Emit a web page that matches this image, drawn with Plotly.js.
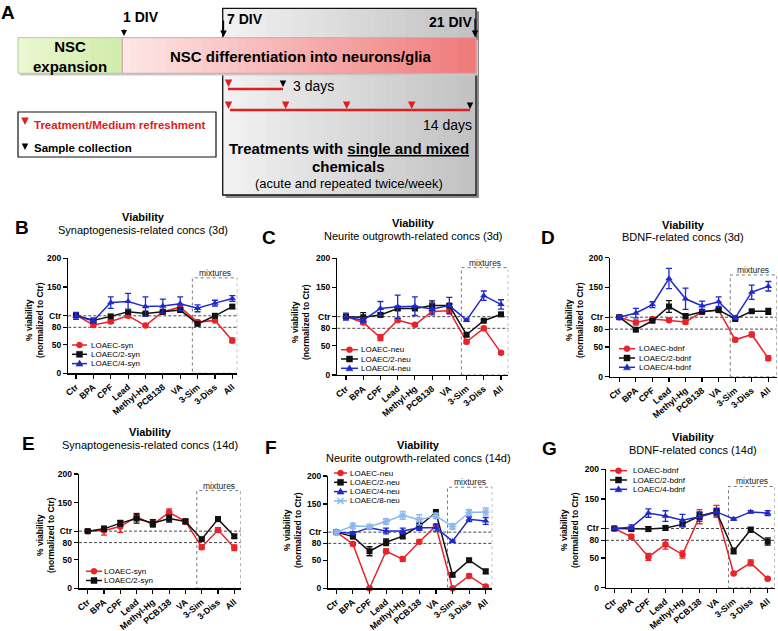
<!DOCTYPE html>
<html><head><meta charset="utf-8">
<script src="https://cdn.plot.ly/plotly-3.0.1.min.js"></script>
<style>html,body{margin:0;padding:0;background:#fff}#chart{width:778px;height:631px}</style>
</head><body><div id="chart"></div>
<script>
// ---------------- DATA ----------------
const categories = ['Ctr','BPA','CPF','Lead','Methyl-Hg','PCB138','VA','3-Sim','3-Diss','All'];
const yTickVals = [0, 50, 80, 100, 150, 200];
const yTickText = ['0', '50', '80', 'Ctr', '150', '200'];

// B: Synaptogenesis-related concs (3d)
const B_syn      = [101, 84, 90, 100, 83, 107, 115, 89, 92, 57];
const B_syn_err  = [3, 3, 3, 3, 2, 3, 3, 3, 3, 4];
const B_syn2     = [101, 92, 99, 107, 104, 107, 110, 86, 100, 116];
const B_syn2_err = [2, 2, 2, 3, 2, 2, 3, 2, 2, 3];
const B_syn4     = [100, 91, 123, 125, 116, 117, 121, 113, 122, 130];
const B_syn4_err = [6, 4, 10, 14, 17, 12, 12, 6, 5, 5];

// C: Neurite outgrowth-related concs (3d)
const C_neu      = [100, 90, 64, 94, 86, 109, 110, 57, 80, 38];
const C_neu_err  = [3, 3, 5, 3, 2, 3, 3, 3, 3, 2];
const C_neu2     = [100, 99, 103, 114, 114, 119, 119, 69, 93, 104];
const C_neu2_err = [3, 8, 3, 3, 3, 8, 3, 3, 2, 2];
const C_neu4     = [100, 94, 114, 117, 118, 113, 119, 94, 136, 121];
const C_neu4_err = [6, 4, 12, 20, 16, 10, 14, 2, 8, 8];

// D: BDNF-related concs (3d)
const D_bdnf      = [100, 91, 97, 95, 92, 109, 112, 62, 71, 31];
const D_bdnf_err  = [2, 4, 2, 2, 3, 3, 3, 3, 4, 4];
const D_bdnf2     = [100, 79, 94, 118, 102, 109, 112, 97, 110, 110];
const D_bdnf2_err = [2, 2, 2, 10, 3, 2, 2, 2, 2, 5];
const D_bdnf4     = [100, 107, 121, 165, 131, 119, 126, 99, 142, 152];
const D_bdnf4_err = [3, 8, 5, 17, 18, 8, 8, 3, 12, 8];

// E: Synaptogenesis-related concs (14d)
const E_syn      = [100, 101, 108, 125, 112, 133, 117, 72, 102, 71];
const E_syn_err  = [2, 8, 10, 6, 5, 6, 4, 4, 4, 5];
const E_syn2     = [100, 104, 114, 122, 114, 122, 117, 86, 121, 91];
const E_syn2_err = [2, 4, 5, 8, 6, 6, 4, 2, 4, 3];

// F: Neurite outgrowth-related concs (14d)
const F_neu      = [100, 79, 0, 66, 52, 83, 111, 0, 22, 3];
const F_neu_err  = [2, 3, 1, 4, 4, 3, 3, 1, 3, 2];
const F_neu2     = [100, 92, 66, 82, 93, 111, 135, 24, 50, 30];
const F_neu2_err = [2, 3, 8, 6, 5, 7, 5, 3, 3, 4];
const F_neu4     = [100, 98, 108, 102, 102, 108, 108, 84, 123, 120];
const F_neu4_err = [2, 3, 2, 5, 5, 5, 6, 2, 4, 6];
const F_neu8     = [100, 111, 110, 119, 130, 122, 129, 110, 135, 136];
const F_neu8_err = [3, 5, 2, 5, 7, 9, 5, 5, 5, 7];

// G: BDNF-related concs (14d)
const G_bdnf      = [100, 86, 52, 73, 56, 120, 129, 24, 42, 15];
const G_bdnf_err  = [2, 4, 6, 8, 6, 12, 10, 2, 5, 2];
const G_bdnf2     = [100, 99, 99, 101, 107, 121, 128, 62, 98, 78];
const G_bdnf2_err = [2, 2, 4, 4, 4, 6, 6, 5, 4, 6];
const G_bdnf4     = [100, 102, 126, 121, 114, 120, 128, 116, 128, 126];
const G_bdnf4_err = [2, 4, 7, 9, 10, 8, 6, 2, 2, 4];

// ---------------- STYLE / LAYOUT ----------------
const W = 778, H = 631;
const fx = p => p / W, fy = p => 1 - p / H;
const FONT = 'Arial, "Liberation Sans", sans-serif';
const RED = '#e8232a', BLACK = '#111111', BLUE = '#1e2acb', LIGHT = '#8db8ee';
const ST = {
  red:   {color: RED, symbol: 'circle'},
  black: {color: BLACK, symbol: 'square'},
  blue:  {color: BLUE, symbol: 'triangle-up'},
  light: {color: LIGHT, symbol: 'asterisk-open'}
};

const panels = [
  {letter:'B', L:68.3, R:237.3, x0:76, x9:232.3, top:258.3, bottom:373.3, boxTop:166,
   sub:'Synaptogenesis-related concs (3d)', tx:143, ty:217, lx:22, ly:228, ytx:34, yty:320,
   leg:{sx0:72, sx1:87, tx:90, rows:[345, 354.3, 363.6]},
   series:[['LOAEC-syn', B_syn, B_syn_err, 'red'], ['LOAEC/2-syn', B_syn2, B_syn2_err, 'black'], ['LOAEC/4-syn', B_syn4, B_syn4_err, 'blue']]},
  {letter:'C', L:337.3, R:508.3, x0:346, x9:501, top:258.3, bottom:375, boxTop:184,
   sub:'Neurite outgrowth-related concs (3d)', tx:413, ty:223, lx:269, ly:237, ytx:300, yty:322,
   leg:{sx0:341, sx1:358, tx:360, rows:[349.7, 359, 368.3]},
   series:[['LOAEC-neu', C_neu, C_neu_err, 'red'], ['LOAEC/2-neu', C_neu2, C_neu2_err, 'black'], ['LOAEC/4-neu', C_neu4, C_neu4_err, 'blue']]},
  {letter:'D', L:610, R:776.7, x0:619.3, x9:768.3, top:257.7, bottom:376.7, boxTop:171,
   sub:'BDNF-related concs (3d)', tx:683, ty:225, lx:548, ly:238, ytx:574, yty:320,
   leg:{sx0:619, sx1:635, tx:638, rows:[348.7, 358, 367.3]},
   series:[['LOAEC-bdnf', D_bdnf, D_bdnf_err, 'red'], ['LOAEC/2-bdnf', D_bdnf2, D_bdnf2_err, 'black'], ['LOAEC/4-bdnf', D_bdnf4, D_bdnf4_err, 'blue']]},
  {letter:'E', L:79, R:240.7, x0:87.7, x9:234.3, top:474, bottom:588.3, boxTop:171,
   sub:'Synaptogenesis-related concs (14d)', tx:150, ty:432, lx:28, ly:443, ytx:45, yty:535,
   leg:{sx0:86, sx1:102, tx:103, rows:[571.2, 580.5]},
   series:[['LOAEC-syn', E_syn, E_syn_err, 'red'], ['LOAEC/2-syn', E_syn2, E_syn2_err, 'black']]},
  {letter:'F', L:328.3, R:492.3, x0:336.3, x9:485.7, top:476, bottom:588.3, boxTop:180,
   sub:'Neurite outgrowth-related concs (14d)', tx:418, ty:445, lx:271, ly:447, ytx:292, yty:530,
   leg:{sx0:334, sx1:347, tx:349, rows:[473, 482.3, 491.6, 500.9]},
   series:[['LOAEC-neu', F_neu, F_neu_err, 'red'], ['LOAEC/2-neu', F_neu2, F_neu2_err, 'black'], ['LOAEC/4-neu', F_neu4, F_neu4_err, 'blue'], ['LOAEC/8-neu', F_neu8, F_neu8_err, 'light']]},
  {letter:'G', L:606, R:775, x0:614.3, x9:767.7, top:469.3, bottom:587.7, boxTop:171,
   sub:'BDNF-related concs (14d)', tx:693, ty:437, lx:549, ly:448, ytx:569, yty:530,
   leg:{sx0:610, sx1:627, tx:632, rows:[470.7, 480, 489.3]},
   series:[['LOAEC-bdnf', G_bdnf, G_bdnf_err, 'red'], ['LOAEC/2-bdnf', G_bdnf2, G_bdnf2_err, 'black'], ['LOAEC/4-bdnf', G_bdnf4, G_bdnf4_err, 'blue']]}
];

const traces = [], shapes = [], annotations = [];
const layout = {
  width: W, height: H, margin: {l:0, r:0, t:0, b:0},
  paper_bgcolor: '#fff', plot_bgcolor: 'rgba(0,0,0,0)',
  showlegend: false, font: {family: FONT, color: '#000'},
  shapes, annotations
};

function txt(x, y, text, size, opts) {
  annotations.push(Object.assign({xref:'paper', yref:'paper', x: fx(x), y: fy(y), text,
    showarrow:false, xanchor:'center', yanchor:'middle', borderpad:0,
    font:{family: FONT, size, color:'#000'}}, opts || {}));
}
function arrow(x, y, len, color, w) {
  annotations.push({xref:'paper', yref:'paper', x: fx(x), y: fy(y), ax: 0, ay: -len, text:'',
    showarrow:true, arrowhead:2, arrowsize:1, arrowwidth: w || 1.2, arrowcolor: color, standoff:0});
}
function lerp(a, b, t) { return Math.round(a + (b - a) * t); }
function hex(c) { return [1,3,5].map(i => parseInt(c.substr(i,2),16)); }
function grad(x0, x1, y0, y1, c0, c1, n) {
  const a = hex(c0), b = hex(c1);
  for (let i = 0; i < n; i++) {
    const t = i / (n - 1);
    shapes.push({type:'rect', xref:'paper', yref:'paper', layer:'below',
      x0: fx(x0 + (x1 - x0) * i / n), x1: fx(x0 + (x1 - x0) * (i + 1) / n + 0.6), y0: fy(y1), y1: fy(y0),
      fillcolor:`rgb(${lerp(a[0],b[0],t)},${lerp(a[1],b[1],t)},${lerp(a[2],b[2],t)})`, line:{width:0}});
  }
}
function rect(x0, x1, y0, y1, fill, lineColor, lw, layer) {
  shapes.push({type:'rect', xref:'paper', yref:'paper', layer: layer || 'below',
    x0: fx(x0), x1: fx(x1), y0: fy(y1), y1: fy(y0), fillcolor: fill,
    line: lineColor ? {color: lineColor, width: lw} : {width: 0}});
}
function hline(x0, x1, y, color, w) {
  shapes.push({type:'line', xref:'paper', yref:'paper', x0: fx(x0), x1: fx(x1), y0: fy(y), y1: fy(y),
    line:{color, width: w}});
}

// ---------------- PANEL A (schematic) ----------------
txt(8, 12, '<b>A</b>', 19);
rect(225.7, 479, 11.3, 198, '#8c8c8c', null, 0);
grad(222.7, 476, 8.3, 195, '#f2f2f2', '#c2c2c2', 40);
rect(222.7, 476, 8.3, 195, 'rgba(0,0,0,0)', '#111', 1.3);
rect(20, 478, 40, 75.5, '#c9c9c9', null, 0);
grad(18, 122.3, 37.7, 73.3, '#eaf7d0', '#d2ecab', 10);
rect(18, 122.3, 37.7, 73.3, 'rgba(0,0,0,0)', '#b7c8a0', 1);
grad(122.3, 476, 37.7, 73.3, '#fde6e6', '#f07a7a', 40);
rect(122.3, 476, 37.7, 73.3, 'rgba(0,0,0,0)', '#d9a3a3', 1);
txt(70, 56, '<b>NSC<br>expansion</b>', 15);
txt(300, 57, '<b>NSC differentiation into neurons/glia</b>', 15);
txt(141, 17, '<b>1 DIV</b>', 14);
txt(245, 19, '<b>7 DIV</b>', 14);
txt(450, 22, '<b>21 DIV</b>', 14);
arrow(124, 36, 8, '#000', 1.2);
arrow(223.5, 37, 18, '#000', 1.3);
arrow(475, 37, 20, '#000', 1.3);
hline(228, 283, 89, '#e02020', 2.5);
arrow(228.5, 87, 7, '#e02020', 1.5);
arrow(283, 87, 7, '#000', 1.3);
txt(292, 86, '3 days', 14, {xanchor:'left'});
hline(230, 470, 110, '#e02020', 2.5);
[228.5, 285.7, 346.7, 411.7].forEach(x => arrow(x, 109, 7, '#e02020', 1.5));
arrow(470, 109, 7, '#000', 1.3);
txt(473, 125, '14 days', 14, {xanchor:'right'});
txt(349, 148.5, '<b>Treatments with <u>single and mixed</u></b>', 15);
txt(348, 166, '<b>chemicals</b>', 15);
txt(349, 184, '(acute and repeated twice/week)', 13);
rect(18, 216, 112, 157, '#fff', '#111', 1.2);
arrow(25, 125, 7, '#e02020', 1.5);
txt(33, 125, '<b>Treatment/Medium refreshment</b>', 11.5, {xanchor:'left', font:{family:FONT, size:11.5, color:'#e02020'}});
arrow(25, 150, 6, '#000', 1.3);
txt(33, 148, '<b>Sample collection</b>', 11.5, {xanchor:'left'});

// ---------------- PANELS B-G ----------------
panels.forEach((p, k) => {
  const n = k + 1;
  const xa = 'x' + (n === 1 ? '' : n), ya = 'y' + (n === 1 ? '' : n);
  const xkey = 'xaxis' + (n === 1 ? '' : n), ykey = 'yaxis' + (n === 1 ? '' : n);
  const s = (p.x9 - p.x0) / 9;
  const a = -(p.x0 - p.L) / s, b = (p.R - p.x0) / s;
  layout[xkey] = {domain:[fx(p.L), fx(p.R)], range:[a, b], type:'category', anchor: ya,
    showline:true, linecolor:'#000', linewidth:1.3, ticks:'outside', ticklen:4, tickwidth:1.2, tickcolor:'#000',
    tickangle:-40, tickfont:{family:FONT, size:8.8, weight:'bold', color:'#000'},
    showgrid:false, zeroline:false, fixedrange:true};
  layout[ykey] = {domain:[fy(p.bottom), fy(p.top)], range:[0, 200], anchor: xa,
    tickvals: yTickVals, ticktext: yTickText, showline:true, linecolor:'#000', linewidth:1.3,
    ticks:'outside', ticklen:4, tickwidth:1.2, tickcolor:'#000',
    tickfont:{family:FONT, size:8.5, weight:'bold', color:'#000'},
    showgrid:false, zeroline:false, fixedrange:true};
  [100, 80].forEach(v => shapes.push({type:'line', xref: xa + ' domain', yref: ya, x0:0, x1:1, y0:v, y1:v,
    line:{color:'#333', width:0.9, dash:'3px,2px'}, layer:'below'}));
  shapes.push({type:'rect', xref: xa, yref: ya, x0:6.7, x1:b, y0:0, y1:p.boxTop,
    line:{color:'#777', width:1, dash:'dot'}, layer:'below'});
  annotations.push({xref: xa, yref: ya, x:(6.7 + b) / 2, y:p.boxTop, yanchor:'bottom', text:'mixtures',
    showarrow:false, borderpad:0, font:{family:FONT, size:8.5, color:'#222'}, yshift:-1});
  txt(p.tx, p.ty, '<b>Viability</b>', 11);
  txt(p.tx, p.ty + 12.5, p.sub, 11);
  txt(p.lx, p.ly, '<b>' + p.letter + '</b>', 19);
  txt(p.ytx, p.yty, '<b>% viability<br>(normalized to Ctr)</b>', 8.5, {textangle:-90});
  p.series.forEach((sr, i) => {
    const st = ST[sr[3]];
    const marker = {color: st.color, symbol: st.symbol, size: st.symbol === 'square' ? 6 : 6.5};
    if (st.symbol === 'asterisk-open') marker.line = {color: st.color, width: 1.5};
    traces.push({type:'scatter', mode:'lines+markers', x: categories, y: sr[1], xaxis: xa, yaxis: ya,
      name: sr[0], line:{color: st.color, width:1.5}, marker, cliponaxis:false,
      error_y:{type:'data', array: sr[2], visible:true, color: st.color, thickness:1.3, width:3}});
    const ry = p.leg.rows[i];
    hline(p.leg.sx0, p.leg.sx1, ry, st.color, 1.5);
    const cx = fx((p.leg.sx0 + p.leg.sx1) / 2), cy = fy(ry);
    const base = {xref:'paper', yref:'paper', xsizemode:'pixel', ysizemode:'pixel', xanchor: cx, yanchor: cy,
      fillcolor: st.color, line:{color: st.color, width: 0.5}};
    if (st.symbol === 'circle') shapes.push(Object.assign({type:'circle', x0:-3, x1:3, y0:-3, y1:3}, base));
    else if (st.symbol === 'square') shapes.push(Object.assign({type:'rect', x0:-3, x1:3, y0:-3, y1:3}, base));
    else if (st.symbol === 'triangle-up') shapes.push(Object.assign({type:'path', path:'M -3.5,-2.5 L 3.5,-2.5 L 0,3.5 Z'}, base));
    else shapes.push(Object.assign({type:'path', path:'M -3,-3 L 3,3 M -3,3 L 3,-3 M -3.5,0 L 3.5,0'}, base, {fillcolor:'rgba(0,0,0,0)', line:{color: st.color, width:1.4}}));
    annotations.push({xref:'paper', yref:'paper', x: fx(p.leg.tx), y: fy(ry), xanchor:'left', yanchor:'middle',
      text: sr[0], showarrow:false, borderpad:0, font:{family:FONT, size:8, color:'#000'}});
  });
});

Plotly.newPlot('chart', traces, layout, {staticPlot:true, displayModeBar:false});
</script>
</body></html>
